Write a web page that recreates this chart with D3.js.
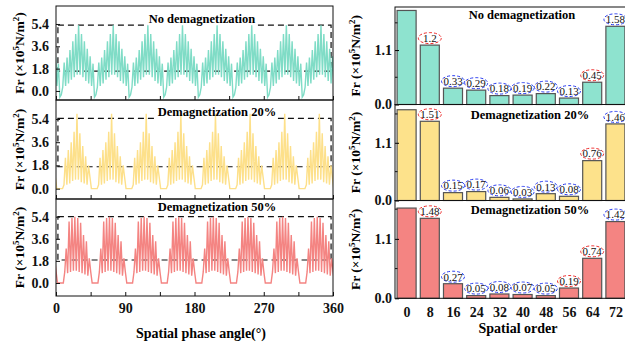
<!DOCTYPE html>
<html>
<head>
<meta charset="utf-8">
<script src="https://cdn.jsdelivr.net/npm/d3@7"></script>
<style>
body { margin: 0; background: #fff; }
svg text { font-family: "Liberation Serif", "Times New Roman", serif; }
</style>
</head>
<body>
<div id="chart"></div>
<script>
// ---------- data ----------
const phaseTicks = [0, 45, 90, 135, 180, 225, 270, 315, 360];
const phaseLabels = [0, 90, 180, 270, 360];
const forceTicks = [0, 1.8, 3.6, 5.4];
const ampTicks = [0, 1.1];
const ampMinor = [0.55, 1.65];
const orders = [0, 8, 16, 24, 32, 40, 48, 56, 64, 72];

// one 45 deg pole period of Fr (x10^5 N/m2), equal angle steps
const poleNoDemag = [-0.5, -0.3, 0.3, 2.3, 0.4, 2.7, 0.6, 3.3, 0.9, 4.0, 1.1, 4.6,
                     1.3, 5.3, 1.3, 4.6, 1.1, 4.0, 0.8, 3.4, 0.6, 2.8, 0.4, 2.2];
const pole20 = [0, 0, 0, 0, 0, 0.3, 2.4, 0.3, 3.0, 0.4, 3.6, 0.6,
                4.4, 0.7, 5.8, 0.7, 4.3, 0.5, 3.3, 0.4, 2.5, 0.3, 1.8, 0.9];
const pole50 = [0, 0, 0, 0, 0, 0.9, 2.8, 0.8, 5.0, 0.9, 5.3, 1.0,
                5.4, 1.0, 5.3, 0.9, 4.9, 0.8, 3.9, 0.7, 3.4, 0.6, 2.0, 0.9];
// angle where each period starts (deg)
const startNoDemag = 5, start20 = 1, start50 = 2;
// dashed reference band [low, high]
const bandNoDemag = [1.6, 5.3], band20 = [1.7, 5.45], band50 = [1.87, 5.4];

// spatial order amplitudes (x10^5 N/m2)
const ampNoDemag = [1.9, 1.2, 0.33, 0.29, 0.18, 0.19, 0.22, 0.13, 0.45, 1.58];
const amp20 = [1.73, 1.51, 0.15, 0.17, 0.06, 0.03, 0.13, 0.08, 0.76, 1.46];
const amp50 = [1.67, 1.48, 0.27, 0.05, 0.08, 0.07, 0.05, 0.19, 0.74, 1.42];
// orders whose label is circled red (others blue)
const redNoDemag = [8, 64], red20 = [8, 64], red50 = [8, 56, 64];

// ---------- drawing ----------
const svg = d3.select("#chart").append("svg")
	.attr("width", 625).attr("height", 343);

const waveX = d3.scaleLinear().domain([0, 360]).range([56, 333]);
const orderX = d3.scaleLinear().domain([-4, 76]).range([395, 627]);

const wavePanels = [
	{title: "No demagnetization", pole: poleNoDemag, start: startNoDemag, band: bandNoDemag,
	 colour: "#7fdcc6", top: 6, bottom: 100, domain: [-0.73, 6.85], tx: 202, ty: 19},
	{title: "Demagnetization 20%", pole: pole20, start: start20, band: band20,
	 colour: "#fde08a", top: 100, bottom: 199, domain: [-0.8, 6.87], tx: 217, ty: 112},
	{title: "Demagnetization 50%", pole: pole50, start: start50, band: band50,
	 colour: "#f48482", top: 199, bottom: 296, domain: [-1.06, 6.84], tx: 217, ty: 207}
];

const barPanels = [
	{title: "No demagnetization", values: ampNoDemag, red: redNoDemag,
	 fill: "#8ee3cf", top: 7, bottom: 104.5, max: 1.97},
	{title: "Demagnetization 20%", values: amp20, red: red20,
	 fill: "#fde28b", top: 104.5, bottom: 200.5, max: 1.83},
	{title: "Demagnetization 50%", values: amp50, red: red50,
	 fill: "#f48482", top: 200.5, bottom: 298.3, max: 1.81}
];

function yTitle(x, y) {
	let t = svg.append("text")
		.attr("transform", "translate(" + x + "," + y + ") rotate(-90)")
		.attr("text-anchor", "middle")
		.attr("dy", "0.35em")
		.attr("font-size", 13.5).attr("font-weight", "bold");
	t.append("tspan").text("Fr (\u00d710");
	t.append("tspan").attr("font-size", 9).attr("dy", -5).text("5");
	t.append("tspan").attr("dy", 5).text("N/m");
	t.append("tspan").attr("font-size", 9).attr("dy", -5).text("2");
	t.append("tspan").attr("dy", 5).text(")");
}

function boxTitle(g, text, x, y, withBg) {
	let t = g.append("text")
		.attr("x", x).attr("y", y).attr("dy", "0.35em")
		.attr("text-anchor", "middle")
		.attr("font-size", 12.5).attr("font-weight", "bold")
		.text(text);
	if (withBg) {
		let b = t.node().getBBox();
		g.insert("rect", "text")
			.attr("x", b.x - 1).attr("y", b.y)
			.attr("width", b.width + 2).attr("height", b.height)
			.attr("fill", "#fff");
	}
	return t;
}

wavePanels.forEach(function(p, i) {
	let y = d3.scaleLinear().domain(p.domain).range([p.bottom, p.top]);
	let g = svg.append("g").attr("class", "wavePanel");

	g.append("clipPath").attr("id", "clipWave" + i)
		.append("rect")
		.attr("x", waveX(0)).attr("y", p.top)
		.attr("width", waveX(360) - waveX(0)).attr("height", p.bottom - p.top);

	// dashed band
	g.append("rect")
		.attr("x", waveX(2.5)).attr("y", y(p.band[1]))
		.attr("width", waveX(357.5) - waveX(2.5))
		.attr("height", y(p.band[0]) - y(p.band[1]))
		.attr("fill", "none").attr("stroke", "#111")
		.attr("stroke-width", 1.2).attr("stroke-dasharray", "6,4");

	let labelG = g.append("g");
	boxTitle(labelG, p.title, p.tx, p.ty, true);
	let title = labelG.select("text").remove();

	// trace, period repeated over the 8 pole pairs
	let pts = [];
	let n = p.pole.length;
	for (let k = -1; k < 8; k++) {
		p.pole.forEach(function(v, j) {
			pts.push([p.start + (k + j / n) * 45, v]);
		});
	}
	pts.push([p.start + 8 * 45, p.pole[0]]);

	g.append("path").datum(pts)
		.attr("clip-path", "url(#clipWave" + i + ")")
		.attr("fill", "none")
		.attr("stroke", p.colour).attr("stroke-width", 1.4)
		.attr("d", d3.line().x(d => waveX(d[0])).y(d => y(d[1])));

	g.append(() => title.node());

	// axes
	let bottomAxis = d3.axisBottom(waveX).tickValues(phaseTicks).tickSize(-4).tickPadding(7)
		.tickFormat(d => (i == 2 && phaseLabels.includes(d)) ? d : "");
	let ax = g.append("g").attr("transform", "translate(0," + p.bottom + ")").call(bottomAxis);
	let leftAxis = d3.axisLeft(y).tickValues(forceTicks).tickSize(-4).tickPadding(7)
		.tickFormat(d3.format(".1f"));
	let ay = g.append("g").attr("transform", "translate(" + waveX(0) + ",0)").call(leftAxis);
	[ax, ay].forEach(function(a) {
		a.select(".domain").remove();
		a.selectAll("text").attr("font-family", "Liberation Serif").attr("font-size", 14)
			.attr("font-weight", "bold").attr("fill", "#111");
		a.selectAll("line").attr("stroke", "#111");
	});

	g.append("rect")
		.attr("x", waveX(0)).attr("y", p.top)
		.attr("width", waveX(360) - waveX(0)).attr("height", p.bottom - p.top)
		.attr("fill", "none").attr("stroke", "#111").attr("stroke-width", 1);

	yTitle(19, (p.top + p.bottom) / 2);
});

barPanels.forEach(function(p, i) {
	let y = d3.scaleLinear().domain([0, p.max]).range([p.bottom, p.top]);
	let g = svg.append("g").attr("class", "barPanel");
	let bw = (orderX(8) - orderX(0)) * 0.82;

	g.selectAll(".bar").data(orders)
		.enter().append("rect")
		.attr("class", "bar")
		.attr("x", d => orderX(d) - bw / 2)
		.attr("y", (d, j) => y(p.values[j]))
		.attr("width", bw)
		.attr("height", (d, j) => y(0) - y(p.values[j]))
		.attr("fill", p.fill).attr("stroke", "#555").attr("stroke-width", 1.2);

	let labels = g.selectAll(".ampLabel").data(orders.slice(1))
		.enter().append("g")
		.attr("class", "ampLabel")
		.attr("transform", (d, j) => "translate(" + orderX(d) + "," + (y(p.values[j + 1]) - 7) + ")");

	labels.append("ellipse")
		.attr("rx", 11.5).attr("ry", 5.5)
		.attr("fill", "none").attr("stroke-width", 1)
		.attr("stroke-dasharray", "3,2")
		.attr("stroke", d => p.red.includes(d) ? "#ee2a2a" : "#2a3cf0");
	labels.append("text")
		.attr("text-anchor", "middle").attr("dy", "0.35em")
		.attr("font-size", 11).attr("fill", "#111")
		.text((d, j) => p.values[j + 1]);

	boxTitle(g, p.title, i == 0 ? 522 : 530, i == 0 ? 15 : (i == 1 ? 115 : 210), false);

	let leftAxis = d3.axisLeft(y).tickValues(ampTicks).tickSize(-4).tickPadding(3)
		.tickFormat(d3.format(".1f"));
	let ay = g.append("g").attr("transform", "translate(" + orderX(-4) + ",0)").call(leftAxis);
	ay.select(".domain").remove();
	ay.selectAll("text").attr("font-family", "Liberation Serif").attr("font-size", 14)
		.attr("font-weight", "bold").attr("fill", "#111");
	g.selectAll(".minor").data(ampMinor).enter().append("line")
		.attr("x1", orderX(-4)).attr("x2", orderX(-4) + 2.5)
		.attr("y1", d => y(d)).attr("y2", d => y(d))
		.attr("stroke", "#111");

	if (i == 2) {
		let bottomAxis = d3.axisBottom(orderX).tickValues(orders).tickSize(0).tickPadding(9);
		let ax = g.append("g").attr("transform", "translate(0," + p.bottom + ")").call(bottomAxis);
		ax.select(".domain").remove();
		ax.selectAll("text").attr("font-family", "Liberation Serif").attr("font-size", 14)
			.attr("font-weight", "bold").attr("fill", "#111");
	}

	g.append("rect")
		.attr("x", orderX(-4)).attr("y", p.top)
		.attr("width", orderX(76) - orderX(-4)).attr("height", p.bottom - p.top)
		.attr("fill", "none").attr("stroke", "#111").attr("stroke-width", 1);

	yTitle(355, (p.top + p.bottom) / 2);
});

svg.append("text")
	.attr("x", 201).attr("y", 338)
	.attr("text-anchor", "middle")
	.attr("font-size", 14).attr("font-weight", "bold")
	.text("Spatial phase angle(\u00b0)");

svg.append("text")
	.attr("x", 518).attr("y", 333)
	.attr("text-anchor", "middle")
	.attr("font-size", 14).attr("font-weight", "bold")
	.text("Spatial order");
</script>
</body>
</html>
